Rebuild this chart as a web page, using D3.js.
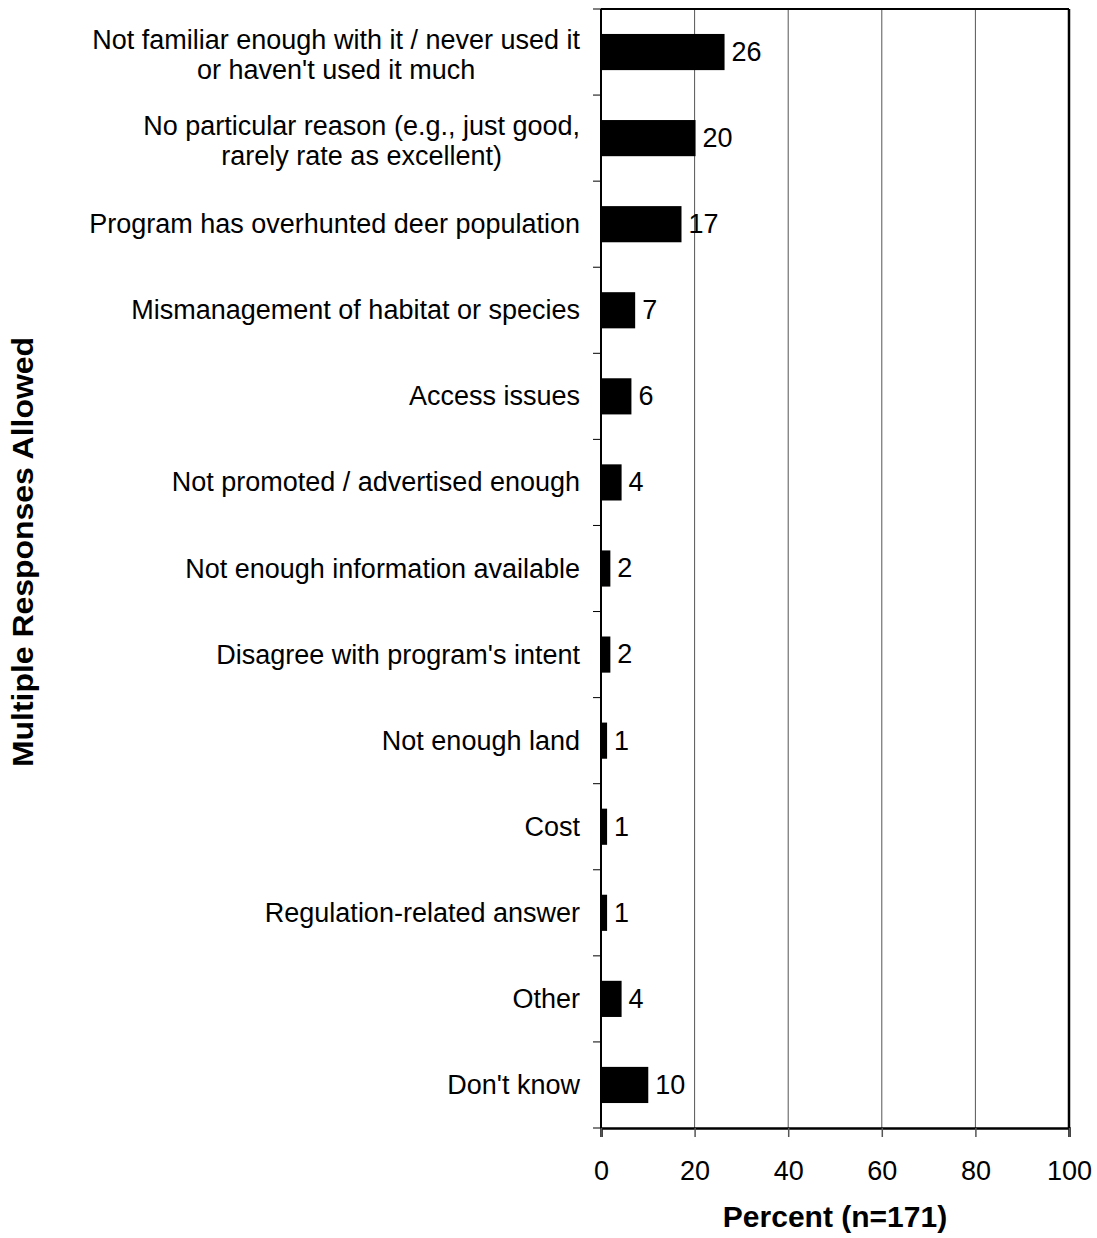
<!DOCTYPE html>
<html>
<head>
<meta charset="utf-8">
<script src="https://cdn.jsdelivr.net/npm/d3@7"></script>
<style>
  body { margin: 0; background: #fff; }
  text { font-family: "Liberation Sans", Arial, sans-serif; fill: #000; }
</style>
</head>
<body>
<div id="wrapper"></div>
<script>
// data
const categories = [
  ["Not familiar enough with it / never used it", "or haven't used it much"],
  ["No particular reason (e.g., just good,", "rarely rate as excellent)"],
  ["Program has overhunted deer population"],
  ["Mismanagement of habitat or species"],
  ["Access issues"],
  ["Not promoted / advertised enough"],
  ["Not enough information available"],
  ["Disagree with program's intent"],
  ["Not enough land"],
  ["Cost"],
  ["Regulation-related answer"],
  ["Other"],
  ["Don't know"]
]
const values = [26.4, 20.2, 17.2, 7.3, 6.5, 4.4, 2.0, 2.0, 1.3, 1.3, 1.3, 4.4, 10.1]
const valueLabels = ["26", "20", "17", "7", "6", "4", "2", "2", "1", "1", "1", "4", "10"]
const xTicks = [0, 20, 40, 60, 80, 100]

// dimensions
const width = 1097
const height = 1238
const margin = { top: 9, right: 28, bottom: 110, left: 601 }
const boundedWidth = width - margin.left - margin.right
const boundedHeight = height - margin.top - margin.bottom
const fontSize = 27

const svg = d3.select("#wrapper").append("svg")
  .attr("width", width)
  .attr("height", height)

const bounds = svg.append("g")
  .attr("transform", `translate(${margin.left},${margin.top})`)

// scales
const xScale = d3.scaleLinear()
  .domain([0, 100])
  .range([0, boundedWidth])

const yScale = d3.scaleBand()
  .domain(d3.range(categories.length))
  .range([0, boundedHeight])
  .paddingInner(0.58)
  .paddingOuter(0.29)

// gridlines
bounds.append("g")
  .selectAll("line")
  .data(xTicks.filter(d => d > 0 && d < 100))
  .join("line")
    .attr("x1", d => xScale(d))
    .attr("x2", d => xScale(d))
    .attr("y1", 0)
    .attr("y2", boundedHeight)
    .attr("stroke", "#555")
    .attr("stroke-width", 1)

// bars
bounds.append("g")
  .selectAll("rect")
  .data(values)
  .join("rect")
    .attr("x", 0)
    .attr("y", (d, i) => yScale(i))
    .attr("width", d => xScale(d))
    .attr("height", yScale.bandwidth())
    .attr("fill", "#000")

// value labels
bounds.append("g")
  .selectAll("text")
  .data(values)
  .join("text")
    .attr("x", d => xScale(d) + 7)
    .attr("y", (d, i) => yScale(i) + yScale.bandwidth() / 2)
    .attr("dy", "0.33em")
    .style("font-size", fontSize + "px")
    .text((d, i) => valueLabels[i])

// frame: top and right
bounds.append("line")
  .attr("x1", 0).attr("x2", boundedWidth)
  .attr("y1", 0).attr("y2", 0)
  .attr("stroke", "#000").attr("stroke-width", 2)
bounds.append("line")
  .attr("x1", boundedWidth).attr("x2", boundedWidth)
  .attr("y1", 0).attr("y2", boundedHeight)
  .attr("stroke", "#000").attr("stroke-width", 2.5)

// x axis
const xAxis = bounds.append("g")
  .attr("transform", `translate(0,${boundedHeight})`)
  .call(d3.axisBottom(xScale).tickValues(xTicks).tickSize(9).tickPadding(24))
xAxis.select(".domain").attr("stroke-width", 2.5)
xAxis.selectAll(".tick line").attr("stroke", "#555").attr("stroke-width", 1.5)
xAxis.selectAll("text")
  .style("font-size", fontSize + "px")
  .style("font-family", "'Liberation Sans', Arial, sans-serif")

// y axis: ticks at band boundaries
const bandEdges = d3.range(categories.length + 1).map(i => i * boundedHeight / categories.length)
const yAxis = bounds.append("g")
yAxis.append("line")
  .attr("x1", 0).attr("x2", 0)
  .attr("y1", 0).attr("y2", boundedHeight)
  .attr("stroke", "#000").attr("stroke-width", 2)
yAxis.selectAll(".ytick")
  .data(bandEdges)
  .join("line")
    .attr("class", "ytick")
    .attr("x1", -8).attr("x2", 0)
    .attr("y1", d => d).attr("y2", d => d)
    .attr("stroke", "#000").attr("stroke-width", 1)

// category labels
const labelGroups = bounds.append("g")
  .selectAll("text")
  .data(categories)
  .join("text")
    .attr("y", (d, i) => yScale(i) + yScale.bandwidth() / 2)
    .style("font-size", fontSize + "px")

labelGroups.each(function(lines) {
  const t = d3.select(this)
  const lineHeight = 30
  const startDy = lines.length > 1 ? -(lines.length - 1) * lineHeight / 2 + 3 : 0
  lines.forEach((line, j) => {
    t.append("tspan")
      .attr("x", -21)
      .attr("dy", j === 0 ? startDy + 9 : lineHeight)
      .attr("text-anchor", "end")
      .text(line)
  })
  // centre later lines under the first one
  if (lines.length > 1) {
    const spans = t.selectAll("tspan").nodes()
    const firstW = spans[0].getComputedTextLength()
    const centre = -21 - firstW / 2
    spans.forEach((s, j) => {
      if (j > 0) d3.select(s).attr("x", centre).attr("text-anchor", "middle")
    })
  }
})

// axis titles
svg.append("text")
  .attr("x", margin.left + boundedWidth / 2)
  .attr("y", 1227)
  .attr("text-anchor", "middle")
  .style("font-size", "30px")
  .style("font-weight", "bold")
  .text("Percent (n=171)")

svg.append("text")
  .attr("transform", "translate(33,552) rotate(-90)")
  .attr("text-anchor", "middle")
  .attr("textLength", 430)
  .attr("lengthAdjust", "spacingAndGlyphs")
  .style("font-size", "30px")
  .style("font-weight", "bold")
  .text("Multiple Responses Allowed")
</script>
</body>
</html>
